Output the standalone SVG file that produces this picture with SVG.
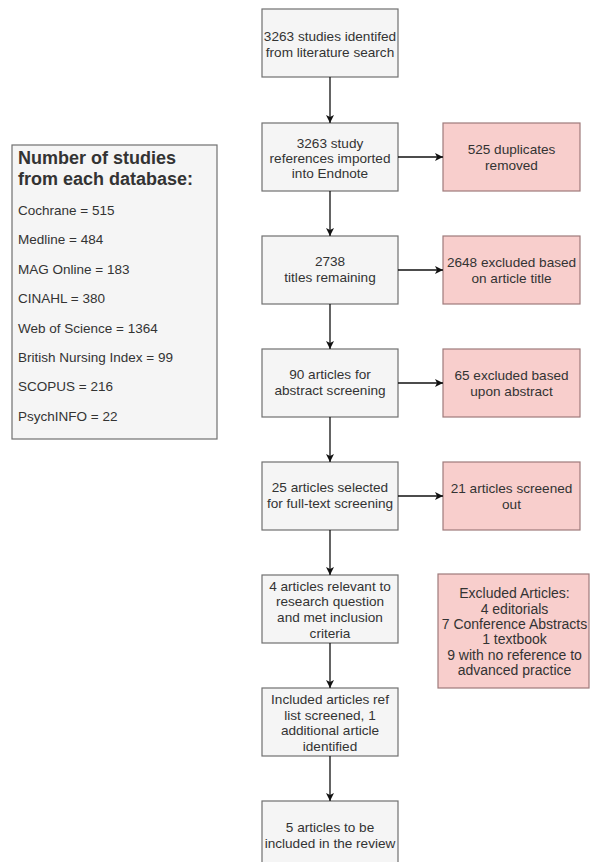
<svg xmlns="http://www.w3.org/2000/svg" width="591" height="862" viewBox="0 0 591 862">
<defs>
<style>
.box{fill:#f5f5f5;stroke:#707070;stroke-width:1.2}
.pink{fill:#f8cecc;stroke:#9e7b7b;stroke-width:1.2}
text{font-family:"Liberation Sans",Arial,sans-serif;fill:#333;}
.t{font-size:13.6px;text-anchor:middle}
.t14{font-size:14px;text-anchor:middle}
.h{font-size:18px;font-weight:bold}
.l{font-size:13.5px}
.edge{stroke:#111;stroke-width:1.3;fill:none;marker-end:url(#arr)}
</style>
<marker id="arr" viewBox="0 0 10 10" refX="10" refY="5" markerWidth="8" markerHeight="8" markerUnits="userSpaceOnUse" orient="auto">
<path d="M0,0 L10,5 L0,10 L2.5,5 Z" fill="#111"/>
</marker>
</defs>
<rect width="591" height="862" fill="#fff"/>

<g id="db-list">
<rect class="box" x="12" y="145" width="205" height="294"/>
<text class="h" x="18" y="164">Number of studies</text>
<text class="h" x="18" y="185">from each database:</text>
<text class="l" x="18" y="215">Cochrane = 515</text>
<text class="l" x="18" y="244.4">Medline = 484</text>
<text class="l" x="18" y="273.8">MAG Online = 183</text>
<text class="l" x="18" y="303.2">CINAHL = 380</text>
<text class="l" x="18" y="332.6">Web of Science = 1364</text>
<text class="l" x="18" y="362">British Nursing Index = 99</text>
<text class="l" x="18" y="391.4">SCOPUS = 216</text>
<text class="l" x="18" y="420.8">PsychINFO = 22</text>
</g>

<g id="n1">
<rect class="box" x="262" y="9" width="136" height="68"/>
<text class="t" x="330" y="41">3263 studies identifed</text>
<text class="t" x="330" y="57">from literature search</text>
</g>
<g id="n2">
<rect class="box" x="262" y="123" width="136" height="68"/>
<text class="t" x="330" y="148">3263 study</text>
<text class="t" x="330" y="163">references imported</text>
<text class="t" x="330" y="178">into Endnote</text>
</g>
<g id="n3">
<rect class="box" x="262" y="236" width="136" height="68"/>
<text class="t" x="330" y="266">2738</text>
<text class="t" x="330" y="282">titles remaining</text>
</g>
<g id="n4">
<rect class="box" x="262" y="349" width="136" height="68"/>
<text class="t" x="330" y="379">90 articles for</text>
<text class="t" x="330" y="395">abstract screening</text>
</g>
<g id="n5">
<rect class="box" x="262" y="462" width="136" height="68"/>
<text class="t" x="330" y="492">25 articles selected</text>
<text class="t" x="330" y="508">for full-text screening</text>
</g>
<g id="n6">
<rect class="box" x="262" y="575" width="136" height="68"/>
<text class="t" x="330" y="590.5">4 articles relevant to</text>
<text class="t" x="330" y="606.3">research question</text>
<text class="t" x="330" y="622">and met inclusion</text>
<text class="t" x="330" y="638">criteria</text>
</g>
<g id="n7">
<rect class="box" x="262" y="688" width="136" height="68"/>
<text class="t" x="330" y="704">Included articles ref</text>
<text class="t" x="330" y="719.5">list screened, 1</text>
<text class="t" x="330" y="735">additional article</text>
<text class="t" x="330" y="750.5">identified</text>
</g>
<g id="n8">
<rect class="box" x="262" y="801" width="136" height="68"/>
<text class="t" x="330" y="832">5 articles to be</text>
<text class="t" x="330" y="848">included in the review</text>
</g>

<g id="x1">
<rect class="pink" x="443" y="123" width="137" height="68"/>
<text class="t" x="511.5" y="154">525 duplicates</text>
<text class="t" x="511.5" y="170">removed</text>
</g>
<g id="x2">
<rect class="pink" x="443" y="236" width="137" height="68"/>
<text class="t" x="511.5" y="267">2648 excluded based</text>
<text class="t" x="511.5" y="283">on article title</text>
</g>
<g id="x3">
<rect class="pink" x="443" y="349" width="137" height="68"/>
<text class="t" x="511.5" y="380">65 excluded based</text>
<text class="t" x="511.5" y="396">upon abstract</text>
</g>
<g id="x4">
<rect class="pink" x="443" y="462" width="137" height="68"/>
<text class="t" x="511.5" y="493">21 articles screened</text>
<text class="t" x="511.5" y="509">out</text>
</g>
<g id="x5">
<rect class="pink" x="438" y="574" width="151" height="114"/>
<text class="t14" x="514.5" y="598.3">Excluded Articles:</text>
<text class="t14" x="514.5" y="613.5">4 editorials</text>
<text class="t14" x="514.5" y="628.5">7 Conference Abstracts</text>
<text class="t14" x="514.5" y="644.3">1 textbook</text>
<text class="t14" x="514.5" y="659.5">9 with no reference to</text>
<text class="t14" x="514.5" y="675">advanced practice</text>
</g>

<g id="connectors">
<line class="edge" x1="330" y1="77" x2="330" y2="123"/>
<line class="edge" x1="330" y1="191" x2="330" y2="236"/>
<line class="edge" x1="330" y1="304" x2="330" y2="349"/>
<line class="edge" x1="330" y1="417" x2="330" y2="462"/>
<line class="edge" x1="330" y1="530" x2="330" y2="575"/>
<line class="edge" x1="330" y1="643" x2="330" y2="688"/>
<line class="edge" x1="330" y1="756" x2="330" y2="801"/>
<line class="edge" x1="398" y1="157" x2="443" y2="157"/>
<line class="edge" x1="398" y1="270" x2="443" y2="270"/>
<line class="edge" x1="398" y1="383" x2="443" y2="383"/>
<line class="edge" x1="398" y1="496" x2="443" y2="496"/>
</g>
</svg>
